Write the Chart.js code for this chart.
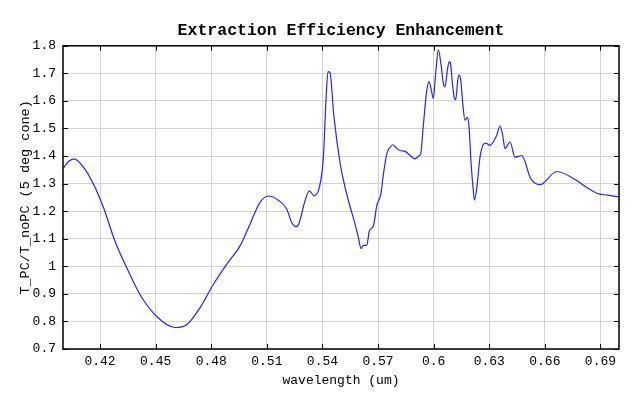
<!DOCTYPE html>
<html>
<head>
<meta charset="utf-8">
<script src="https://cdn.jsdelivr.net/npm/chart.js@4"></script>
<style>
  html, body { margin: 0; padding: 0; background: #fff; }
  #wrap { width: 640px; height: 405px; }
</style>
</head>
<body>
<div id="wrap"><canvas id="effChart" width="640" height="405"></canvas></div>
<script>
const wavelength = [
  0.4000, 0.4030, 0.4059, 0.4110, 0.4164, 0.4218, 0.4280, 0.4344, 0.4416, 0.4506,
  0.4604, 0.4667, 0.4739, 0.4811, 0.4883, 0.4955, 0.5009, 0.5063, 0.5108, 0.5162,
  0.5207, 0.5234, 0.5257, 0.5275, 0.5301, 0.5329, 0.5355, 0.5383, 0.5405, 0.5419,
  0.5430, 0.5440, 0.5462, 0.5495, 0.5522, 0.5549, 0.5576, 0.5594, 0.5608, 0.5621,
  0.5639, 0.5653, 0.5675, 0.5693, 0.5715, 0.5729, 0.5747, 0.5765, 0.5779, 0.5797,
  0.5819, 0.5846, 0.5873, 0.5900, 0.5917, 0.5930, 0.5944, 0.5963, 0.5975, 0.5990,
  0.5998, 0.6011, 0.6025, 0.6040, 0.6052, 0.6061, 0.6074, 0.6083, 0.6090, 0.6101,
  0.6112, 0.6119, 0.6130, 0.6137, 0.6146, 0.6157, 0.6169, 0.6182, 0.6191, 0.6202,
  0.6214, 0.6220, 0.6233, 0.6250, 0.6268, 0.6281, 0.6304, 0.6340, 0.6358, 0.6371,
  0.6385, 0.6412, 0.6439, 0.6475, 0.6493, 0.6520, 0.6574, 0.6664, 0.6772, 0.6826,
  0.6880, 0.6940, 0.7000
];
const ratio = [
  1.354, 1.380, 1.390, 1.360, 1.299, 1.214, 1.092, 0.995, 0.897, 0.818,
  0.778, 0.788, 0.849, 0.934, 1.007, 1.074, 1.153, 1.232, 1.255, 1.240,
  1.208, 1.159, 1.144, 1.159, 1.226, 1.274, 1.256, 1.286, 1.396, 1.603,
  1.706, 1.704, 1.542, 1.375, 1.286, 1.217, 1.153, 1.104, 1.065, 1.076,
  1.077, 1.128, 1.147, 1.220, 1.262, 1.335, 1.408, 1.432, 1.441, 1.430,
  1.420, 1.417, 1.402, 1.390, 1.399, 1.408, 1.510, 1.639, 1.670, 1.630,
  1.609, 1.700, 1.785, 1.731, 1.664, 1.651, 1.712, 1.742, 1.739, 1.664,
  1.609, 1.605, 1.676, 1.694, 1.676, 1.591, 1.530, 1.540, 1.505, 1.372,
  1.274, 1.240, 1.286, 1.396, 1.442, 1.447, 1.439, 1.475, 1.509, 1.481,
  1.427, 1.451, 1.396, 1.402, 1.380, 1.323, 1.296, 1.344, 1.311, 1.286,
  1.265, 1.258, 1.252
];
const xTicks = [0.42, 0.45, 0.48, 0.51, 0.54, 0.57, 0.60, 0.63, 0.66, 0.69];
const yTicks = [0.7, 0.8, 0.9, 1.0, 1.1, 1.2, 1.3, 1.4, 1.5, 1.6, 1.7, 1.8];

const monoFont = '"Liberation Mono", "DejaVu Sans Mono", monospace';

// black frame + inward tick marks on all four sides;
// also centre the title over the plot area instead of the whole canvas
const frameTicks = {
  id: 'frameTicks',
  afterLayout(chart) {
    const t = chart.titleBlock;
    if (t) {
      t.left = chart.chartArea.left;
      t.right = chart.chartArea.right;
      t.width = t.right - t.left;
    }
  },
  afterDraw(chart) {
    const { ctx, chartArea: a, scales } = chart;
    ctx.save();
    ctx.strokeStyle = '#000';
    ctx.lineWidth = 1;
    ctx.beginPath();
    scales.x.ticks.forEach(t => {
      const px = Math.round(scales.x.getPixelForValue(t.value)) + 0.5;
      ctx.moveTo(px, a.bottom); ctx.lineTo(px, a.bottom - 5);
      ctx.moveTo(px, a.top); ctx.lineTo(px, a.top + 5);
    });
    scales.y.ticks.forEach(t => {
      const py = Math.round(scales.y.getPixelForValue(t.value)) + 0.5;
      ctx.moveTo(a.left, py); ctx.lineTo(a.left + 5, py);
      ctx.moveTo(a.right, py); ctx.lineTo(a.right - 5, py);
    });
    ctx.stroke();
    ctx.lineWidth = 1.5;
    ctx.strokeRect(a.left, a.top, a.right - a.left, a.bottom - a.top);
    ctx.restore();
  }
};

const ctx = document.getElementById('effChart').getContext('2d');
const effChart = new Chart(ctx, {
  type: 'line',
  data: {
    datasets: [{
      data: wavelength.map((w, i) => ({ x: w, y: ratio[i] })),
      borderColor: '#2323ff',
      borderWidth: 1.2,
      pointRadius: 0,
      fill: false,
      cubicInterpolationMode: 'monotone'
    }]
  },
  options: {
    responsive: false,
    animation: false,
    layout: { padding: { left: 0, right: 21, top: 0, bottom: 0 } },
    plugins: {
      legend: { display: false },
      tooltip: { enabled: false },
      title: {
        display: true,
        text: 'Extraction Efficiency Enhancement',
        color: '#000',
        font: { family: monoFont, size: 16.5, weight: 'bold' },
        padding: { top: 21, bottom: 5 }
      }
    },
    scales: {
      x: {
        type: 'linear',
        min: 0.40,
        max: 0.70,
        afterBuildTicks: s => { s.ticks = xTicks.map(v => ({ value: v })); },
        afterFit: s => { s.height = 56; },
        grid: { color: '#d3d3d3', drawTicks: false },
        border: { display: false },
        ticks: {
          color: '#000',
          padding: 5,
          maxRotation: 0,
          font: { family: monoFont, size: 13 },
          callback: v => String(Number(v.toFixed(2)))
        },
        title: {
          display: true,
          text: 'wavelength (um)',
          color: '#000',
          padding: { top: 2, bottom: 17 },
          font: { family: monoFont, size: 13 }
        }
      },
      y: {
        min: 0.7,
        max: 1.8,
        afterBuildTicks: s => { s.ticks = yTicks.map(v => ({ value: v })); },
        afterFit: s => { s.width = 63; },
        grid: { color: '#d3d3d3', drawTicks: false },
        border: { display: false },
        ticks: {
          color: '#000',
          padding: 7,
          font: { family: monoFont, size: 13 },
          callback: v => String(Number(v.toFixed(1)))
        },
        title: {
          display: true,
          text: 'T_PC/T_noPC (5 deg cone)',
          color: '#000',
          padding: { top: 17, bottom: 0 },
          font: { family: monoFont, size: 13.5 }
        }
      }
    }
  },
  plugins: [frameTicks]
});
</script>
</body>
</html>
